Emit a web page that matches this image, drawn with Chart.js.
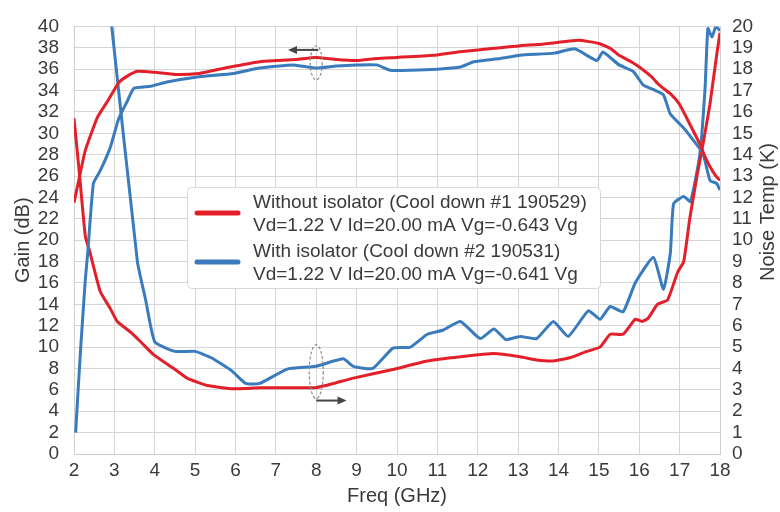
<!DOCTYPE html>
<html lang="en">
<head>
<meta charset="UTF-8">
<title>Gain and Noise Temp vs Freq</title>
<script src="https://cdn.jsdelivr.net/npm/chart.js"></script>
<style>
    html, body { margin: 0; padding: 0; background: #fff; }
    #noiseChart { display: block; }
</style>
</head>
<body>
<canvas id="noiseChart" width="780" height="512"></canvas>
<script>
// Gain (dB), left axis
const redGainFreq = [2.0, 2.14, 2.28, 2.58, 2.83, 3.1, 3.3, 3.57, 4.0, 4.5, 5.1, 5.6, 6.0, 6.6, 7.0, 7.5, 7.98, 8.5, 9.0, 9.5, 10.0, 10.9, 11.5, 12.0, 12.56, 13.05, 13.5, 13.97, 14.5, 15.0, 15.3, 15.5, 15.8, 16.0, 16.3, 16.5, 16.8, 17.0, 17.26, 17.5, 17.63, 17.75, 17.9, 18.0];
const redGain = [23.5, 26, 28.4, 31.5, 33, 34.7, 35.3, 35.8, 35.7, 35.5, 35.6, 36.0, 36.3, 36.7, 36.8, 36.9, 37.1, 36.9, 36.8, 37.0, 37.1, 37.3, 37.6, 37.8, 38.0, 38.2, 38.3, 38.5, 38.7, 38.4, 37.9, 37.3, 36.7, 36.2, 35.3, 34.5, 33.6, 32.7, 30.8, 29.0, 27.8, 26.9, 26.0, 25.6];

const blueGainFreq = [2.04, 2.16, 2.28, 2.34, 2.48, 2.65, 2.9, 3.1, 3.32, 3.48, 3.9, 4.3, 5.1, 5.95, 6.6, 7.43, 7.98, 8.5, 9.0, 9.5, 9.83, 10.33, 11.0, 11.57, 11.9, 12.56, 13.05, 13.9, 14.4, 14.95, 15.1, 15.5, 15.85, 16.1, 16.35, 16.6, 16.77, 17.1, 17.35, 17.58, 17.75, 17.92, 18.0];
const blueGain = [2, 9.6, 16.3, 18.8, 25.3, 26.5, 28.7, 31.3, 33, 34.2, 34.4, 34.8, 35.3, 35.6, 36.1, 36.4, 36.1, 36.3, 36.4, 36.4, 35.9, 35.9, 36.0, 36.2, 36.7, 37.0, 37.3, 37.5, 37.9, 36.8, 37.6, 36.4, 35.8, 34.5, 34.1, 33.6, 31.8, 30.5, 29.3, 28.1, 25.6, 25.3, 24.7];

// Noise temperature (K), right axis
const redNoiseFreq = [2.0, 2.14, 2.28, 2.4, 2.65, 2.9, 3.07, 3.4, 3.65, 3.97, 4.47, 4.8, 5.3, 5.95, 6.6, 7.43, 7.98, 8.43, 8.92, 9.9, 10.75, 11.57, 12.4, 13.05, 13.46, 13.87, 14.28, 14.7, 15.03, 15.28, 15.6, 15.9, 16.07, 16.22, 16.45, 16.7, 16.95, 17.1, 17.25, 17.43, 17.58, 17.75, 17.92, 18.0];
const redNoise = [15.7, 13, 10.2, 9.4, 7.6, 6.8, 6.2, 5.7, 5.25, 4.65, 4.0, 3.55, 3.2, 3.05, 3.1, 3.1, 3.1, 3.3, 3.55, 3.95, 4.35, 4.55, 4.7, 4.55, 4.4, 4.35, 4.5, 4.8, 5.0, 5.6, 5.6, 6.3, 6.2, 6.35, 7.0, 7.2, 8.5, 9.0, 11, 13, 14.5, 16.35, 18.7, 19.7];

const blueNoiseFreq = [2.9, 3.57, 3.77, 4.0, 4.5, 5.0, 5.4, 5.9, 6.25, 6.6, 7.28, 7.98, 8.67, 8.92, 9.4, 9.9, 10.33, 10.75, 11.15, 11.57, 12.06, 12.4, 12.7, 13.05, 13.46, 13.87, 14.24, 14.74, 15.03, 15.28, 15.6, 15.9, 16.35, 16.6, 16.77, 16.85, 17.1, 17.27, 17.5, 17.63, 17.7, 17.8, 17.9, 18.0];
const blueNoise = [20.6, 9, 7.25, 5.25, 4.8, 4.8, 4.5, 3.9, 3.3, 3.3, 3.97, 4.1, 4.45, 4.1, 4.0, 4.95, 5.0, 5.6, 5.8, 6.2, 5.4, 5.85, 5.35, 5.5, 5.4, 6.2, 5.5, 6.7, 6.3, 6.9, 6.65, 8.0, 9.2, 7.7, 9.4, 11.7, 12.05, 11.8, 14, 17.1, 19.9, 19.5, 20, 19.8];

const legendLines = [
    ['Without isolator (Cool down #1 190529)', 'Vd=1.22 V Id=20.00 mA Vg=-0.643 Vg'],
    ['With isolator (Cool down #2 190531)', 'Vd=1.22 V Id=20.00 mA Vg=-0.641 Vg']
];
const rightTitle = 'Noise Temp (K)';

const RED = '#e3202a';
const BLUE = '#3a7bbd';
const TEXT = '#3a3a3a';
const FONT = 'Liberation Sans, Arial, sans-serif';

function pts(xs, ys) {
    return xs.map((v, i) => ({ x: v, y: ys[i] }));
}

function lineSet(xs, ys, color, axis) {
    return {
        data: pts(xs, ys),
        borderColor: color,
        borderWidth: 3,
        pointRadius: 0,
        tension: 0.15,
        yAxisID: axis
    };
}

// legend box, right axis title and the little ellipse/arrow markers
const overlayPlugin = {
    id: 'overlay',
    afterDatasetsDraw(chart) {
        const { ctx, scales: { x, y } } = chart;
        ctx.save();

        // ellipses + arrows near 8 GHz
        ctx.strokeStyle = '#8a8a8a';
        ctx.lineWidth = 1.2;
        ctx.setLineDash([3, 2]);
        ctx.beginPath();
        ctx.ellipse(x.getPixelForValue(8), y.getPixelForValue(36.6), 6, 17, 0, 0, Math.PI * 2);
        ctx.stroke();
        ctx.beginPath();
        ctx.ellipse(x.getPixelForValue(8), y.getPixelForValue(7.7), 7, 27, 0, 0, Math.PI * 2);
        ctx.stroke();
        ctx.setLineDash([]);

        ctx.strokeStyle = '#444';
        ctx.fillStyle = '#444';
        ctx.lineWidth = 2;
        const arrow = (x0, x1, yy) => {
            const dir = Math.sign(x1 - x0);
            ctx.beginPath();
            ctx.moveTo(x0, yy);
            ctx.lineTo(x1 - dir * 7, yy);
            ctx.stroke();
            ctx.beginPath();
            ctx.moveTo(x1, yy);
            ctx.lineTo(x1 - dir * 9, yy - 4);
            ctx.lineTo(x1 - dir * 9, yy + 4);
            ctx.closePath();
            ctx.fill();
        };
        arrow(x.getPixelForValue(8.05), x.getPixelForValue(7.3), y.getPixelForValue(37.8));
        arrow(x.getPixelForValue(8.0), x.getPixelForValue(8.75), y.getPixelForValue(5.0));

        // legend
        const bx = 187, by = 187, bw = 413, bh = 101;
        ctx.fillStyle = '#fff';
        ctx.strokeStyle = '#d8d8d8';
        ctx.lineWidth = 1;
        ctx.beginPath();
        ctx.roundRect(bx + 0.5, by + 0.5, bw, bh, 4);
        ctx.fill();
        ctx.stroke();

        const colors = [RED, BLUE];
        const swatchY = [213, 262];
        const baseY = [[208, 231], [257, 280]];
        ctx.font = '19px ' + FONT;
        ctx.textBaseline = 'alphabetic';
        legendLines.forEach((lines, i) => {
            ctx.strokeStyle = colors[i];
            ctx.lineWidth = 5;
            ctx.lineCap = 'round';
            ctx.beginPath();
            ctx.moveTo(197, swatchY[i]);
            ctx.lineTo(238, swatchY[i]);
            ctx.stroke();
            ctx.fillStyle = TEXT;
            lines.forEach((t, j) => ctx.fillText(t, 253, baseY[i][j]));
        });

        // right axis title, reading bottom to top like the left one
        ctx.translate(768, 212);
        ctx.rotate(-Math.PI / 2);
        ctx.font = '20px ' + FONT;
        ctx.fillStyle = TEXT;
        ctx.textAlign = 'center';
        ctx.textBaseline = 'middle';
        ctx.fillText(rightTitle, 0, 0);
        ctx.restore();
    }
};

const tickFont = { size: 19, family: FONT };
const titleFont = { size: 20, family: FONT };

new Chart(document.getElementById('noiseChart'), {
    type: 'line',
    data: {
        datasets: [
            lineSet(redGainFreq, redGain, RED, 'y'),
            lineSet(blueGainFreq, blueGain, BLUE, 'y'),
            lineSet(redNoiseFreq, redNoise, RED, 'y1'),
            lineSet(blueNoiseFreq, blueNoise, BLUE, 'y1')
        ]
    },
    options: {
        responsive: false,
        animation: false,
        devicePixelRatio: 1,
        layout: { padding: { top: 20 } },
        plugins: {
            legend: { display: false },
            tooltip: { enabled: false }
        },
        scales: {
            x: {
                type: 'linear',
                min: 2,
                max: 18,
                ticks: { stepSize: 1, autoSkip: false, maxRotation: 0, font: tickFont, color: TEXT, padding: 5 },
                grid: { color: '#d6d6d6', drawTicks: false },
                border: { color: '#cfcfcf' },
                title: { display: true, text: 'Freq (GHz)', font: titleFont, color: TEXT, padding: { top: 0 } },
                afterFit: s => { s.height = 58; }
            },
            y: {
                position: 'left',
                min: 0,
                max: 40,
                ticks: { stepSize: 2, autoSkip: false, font: tickFont, color: TEXT, padding: 15 },
                grid: { color: '#d6d6d6', drawTicks: false },
                border: { color: '#cfcfcf' },
                title: { display: true, text: 'Gain (dB)', font: titleFont, color: TEXT, padding: { top: 11, bottom: 0 } },
                afterFit: s => { s.width = 74; }
            },
            y1: {
                position: 'right',
                min: 0,
                max: 20,
                ticks: { stepSize: 1, autoSkip: false, font: tickFont, color: TEXT, padding: 12 },
                grid: { drawOnChartArea: false, drawTicks: false },
                border: { color: '#cfcfcf' },
                afterFit: s => { s.width = 60; }
            }
        }
    },
    plugins: [overlayPlugin]
});
</script>
</body>
</html>
